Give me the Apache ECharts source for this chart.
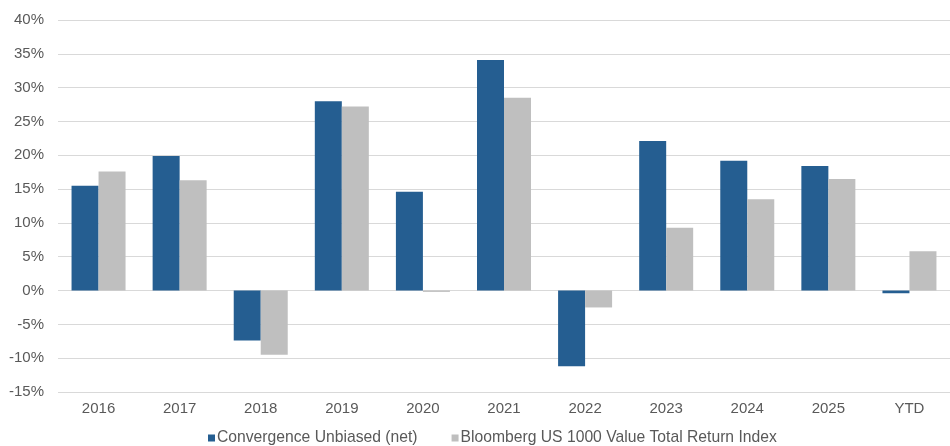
<!DOCTYPE html>
<html>
<head>
<meta charset="utf-8">
<script src="https://cdn.jsdelivr.net/npm/echarts@6/dist/echarts.min.js"></script>
<style>html,body{margin:0;padding:0;background:#fff}#c{width:950px;height:446px}</style>
</head>
<body>
<div id="c"></div>
<script>
var categories = ['2016','2017','2018','2019','2020','2021','2022','2023','2024','2025','YTD'];
var convergence = [15.5, 19.9, -7.4, 28.0, 14.6, 34.1, -11.2, 22.1, 19.2, 18.4, -0.4];
var bloomberg = [17.6, 16.3, -9.5, 27.2, -0.2, 28.5, -2.5, 9.3, 13.5, 16.5, 5.8];
var seriesNames = ['Convergence Unbiased (net)', 'Bloomberg US 1000 Value Total Return Index'];

var chart = echarts.init(document.getElementById('c'));
var font = 'Liberation Sans, Arial, sans-serif';
chart.setOption({
  animation: false,
  textStyle: {fontFamily: font},
  grid: {left: 58, top: 20, width: 898, height: 372},
  legend: {
    left: 203, top: 425,
    itemWidth: 7, itemHeight: 7, itemGap: 34,
    icon: 'rect',
    textStyle: {fontFamily: font, fontSize: 15.7, color: '#595959', padding: [0,0,0,-3]},
    data: seriesNames
  },
  xAxis: {
    type: 'category', data: categories,
    axisLine: {show: false, onZero: false}, axisTick: {show: false},
    axisLabel: {color: '#595959', fontSize: 15, margin: 9, fontFamily: font}
  },
  yAxis: {
    type: 'value', min: -15, max: 40, interval: 5,
    axisLabel: {formatter: '{value}%', color: '#595959', fontSize: 15, margin: 14, fontFamily: font},
    splitLine: {lineStyle: {color: '#d9d9d9', width: 1}},
    axisLine: {show: false}, axisTick: {show: false}
  },
  series: [
    {name: seriesNames[0], type: 'bar', data: convergence, barWidth: 27, barGap: '0%', itemStyle: {color: '#255e91'}},
    {name: seriesNames[1], type: 'bar', data: bloomberg, barWidth: 27, barGap: '0%', itemStyle: {color: '#bfbfbf'}}
  ]
});
</script>
</body>
</html>
